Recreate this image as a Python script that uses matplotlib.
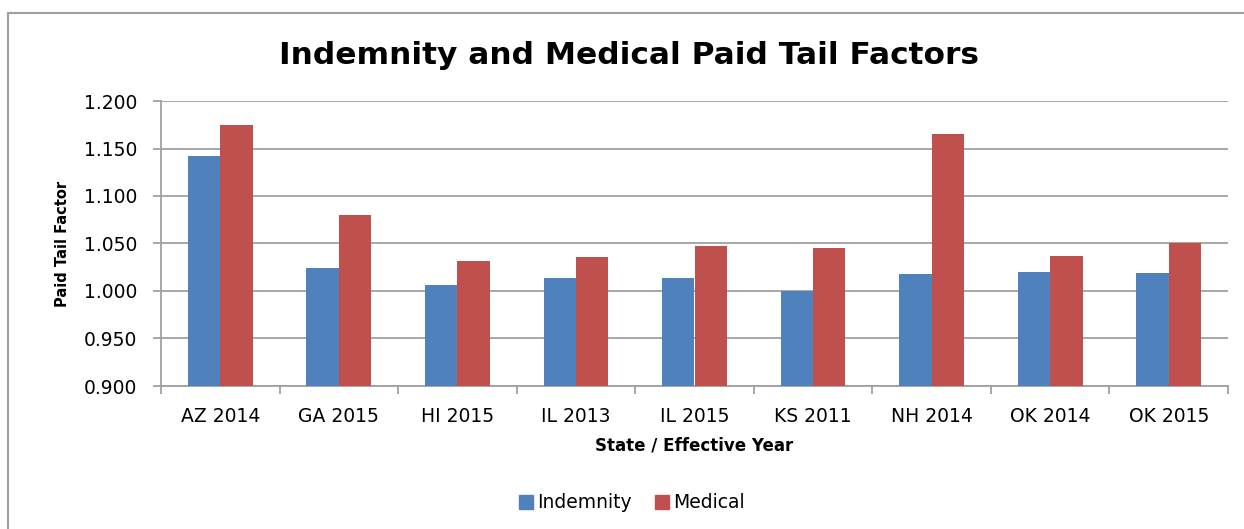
import numpy as np
import matplotlib
matplotlib.use('Agg')
import matplotlib.pyplot as plt
from matplotlib.lines import Line2D
from matplotlib.patches import Patch

categories = ['AZ 2014', 'GA 2015', 'HI 2015', 'IL 2013', 'IL 2015',
              'KS 2011', 'NH 2014', 'OK 2014', 'OK 2015']
indemnity = [1.142, 1.024, 1.006, 1.014, 1.014, 1.000, 1.018, 1.020, 1.019]
medical = [1.175, 1.080, 1.032, 1.036, 1.047, 1.045, 1.165, 1.037, 1.051]
yticks = [0.900, 0.950, 1.000, 1.050, 1.100, 1.150, 1.200]

plt.rcParams['font.family'] = 'DejaVu Sans'
blue = '#4F81BD'
red = '#C0504D'
grey = '#A0A0A0'

fig = plt.figure(figsize=(12.44, 5.29), dpi=100)
ax = fig.add_axes([161/1244, 1-386/529, (1228-161)/1244, (386-101)/529])

x = np.arange(len(categories))
w = 0.273
ax.bar(x - w/2, indemnity, w, color=blue, label='Indemnity', zorder=3)
ax.bar(x + w/2, medical, w, color=red, label='Medical', zorder=3)

ax.set_xlim(-0.5, len(categories) - 0.5)
ax.set_ylim(0.9, 1.2)
ax.set_yticks(yticks)
ax.set_yticklabels(['%.3f' % v for v in yticks], fontsize=13.5)
ax.yaxis.grid(True, color=grey, linewidth=1.3, zorder=0)
ax.set_axisbelow(True)

ax.set_xticks(x)
ax.set_xticklabels(categories, fontsize=13.5)
ax.set_xticks(np.arange(len(categories) + 1) - 0.5, minor=True)
ax.tick_params(axis='x', which='major', length=0, pad=15)
ax.tick_params(axis='x', which='minor', length=6, color=grey, width=1.3)
ax.tick_params(axis='y', length=6, color=grey, width=1.3, pad=11)

for s in ['top', 'right']:
    ax.spines[s].set_visible(False)
for s in ['left', 'bottom']:
    ax.spines[s].set_color(grey)
    ax.spines[s].set_linewidth(1.3)

ax.set_ylabel('Paid Tail Factor', fontsize=10.5, fontweight='bold', labelpad=10)
ax.set_xlabel('State / Effective Year', fontsize=12, fontweight='bold', labelpad=8)

fig.text(0.506, 1-55/529, 'Indemnity and Medical Paid Tail Factors',
         ha='center', va='center', fontsize=22.5, fontweight='bold')

handles = [Patch(color=blue), Patch(color=red)]
fig.legend(handles, ['Indemnity', 'Medical'], loc='center',
           bbox_to_anchor=(0.508, 1-503/529), ncol=2, frameon=False,
           fontsize=13.5, handlelength=0.75, handleheight=0.75,
           handletextpad=0.25, columnspacing=1.2)

# outer chart frame
fig.add_artist(Line2D([8/1244, 8/1244], [0, 1-13/529], color=grey, lw=1.5))
fig.add_artist(Line2D([8/1244, 1], [1-13/529, 1-13/529], color=grey, lw=1.5))

fig.savefig('out.png', dpi=100)
